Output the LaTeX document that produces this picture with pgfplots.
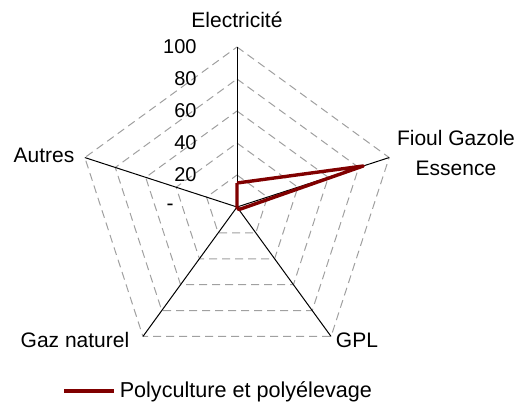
\documentclass[border=0pt]{standalone}
\usepackage{fontspec}
\setmainfont{Liberation Sans}
\usepackage{pgfplots}
\pgfplotsset{compat=1.18}
\usepgfplotslibrary{polar}
\definecolor{polyRed}{HTML}{800000}
\definecolor{gridGray}{HTML}{A0A0A0}
\pgfplotsset{
  gridring/.style={gridGray, line width=0.5pt, dash pattern=on 4pt off 2.5pt, forget plot},
  spoke/.style={black, line width=0.5pt, forget plot},
}
\begin{document}
\begin{tikzpicture}[font=\fontsize{10.5}{12.5}\selectfont]
\begin{polaraxis}[
  scale only axis, width=160pt, height=160pt,
  xmin=0, xmax=360, ymin=0, ymax=100,
  hide axis, clip=false,
  legend style={at={(-0.047,-0.075)}, anchor=west, draw=none, fill=none,
    font=\fontsize{10.8}{13}\selectfont, inner sep=0pt},
  legend image code/.code={\draw[#1] (0pt,0pt) -- (25pt,0pt);},
]
% grid pentagons
\addplot[gridring] coordinates {(90,20) (18,20) (306,20) (234,20) (162,20) (90,20)};
\addplot[gridring] coordinates {(90,40) (18,40) (306,40) (234,40) (162,40) (90,40)};
\addplot[gridring] coordinates {(90,60) (18,60) (306,60) (234,60) (162,60) (90,60)};
\addplot[gridring] coordinates {(90,80) (18,80) (306,80) (234,80) (162,80) (90,80)};
\addplot[gridring] coordinates {(90,100) (18,100) (306,100) (234,100) (162,100) (90,100)};
% spokes
\addplot[spoke] coordinates {(90,0) (90,100)};
\addplot[spoke] coordinates {(18,0) (18,100)};
\addplot[spoke] coordinates {(306,0) (306,100)};
\addplot[spoke] coordinates {(234,0) (234,100)};
\addplot[spoke] coordinates {(162,0) (162,100)};
% series
\addplot[polyRed, line width=1.7pt, line join=round] coordinates {(90,15) (18,83) (306,2) (234,0) (162,0) (90,15)};
\addlegendentry{Polyculture et polyélevage}
% scale labels
\node[anchor=east, inner sep=0pt, font=\fontsize{10}{12}\selectfont] at ([xshift=-20pt]axis cs:90,100) {100};
\node[anchor=east, inner sep=0pt, font=\fontsize{10}{12}\selectfont] at ([xshift=-20pt]axis cs:90,80) {80};
\node[anchor=east, inner sep=0pt, font=\fontsize{10}{12}\selectfont] at ([xshift=-20pt]axis cs:90,60) {60};
\node[anchor=east, inner sep=0pt, font=\fontsize{10}{12}\selectfont] at ([xshift=-20pt]axis cs:90,40) {40};
\node[anchor=east, inner sep=0pt, font=\fontsize{10}{12}\selectfont] at ([xshift=-20pt]axis cs:90,20) {20};
\node[inner sep=0pt] at ([xshift=-33.5pt]axis cs:90,0) {-};
% category labels
\coordinate (C) at (axis cs:0,0);
\node[inner sep=0pt] at ([shift={(0pt,93.5pt)}]C) {Electricité};
\node[inner sep=0pt, align=center] at ([shift={(109.5pt,27pt)}]C) {Fioul Gazole\\[2.5pt]Essence};
\node[inner sep=0pt] at ([shift={(60pt,-66.5pt)}]C) {GPL};
\node[inner sep=0pt] at ([shift={(-81pt,-66.5pt)}]C) {Gaz naturel};
\node[inner sep=0pt] at ([shift={(-96.5pt,26pt)}]C) {Autres};
\end{polaraxis}
\pgfresetboundingbox
\path[use as bounding box] ([shift={(-118.5pt,-98pt)}]C) rectangle ([shift={(140pt,103.5pt)}]C);
\end{tikzpicture}
\end{document}
